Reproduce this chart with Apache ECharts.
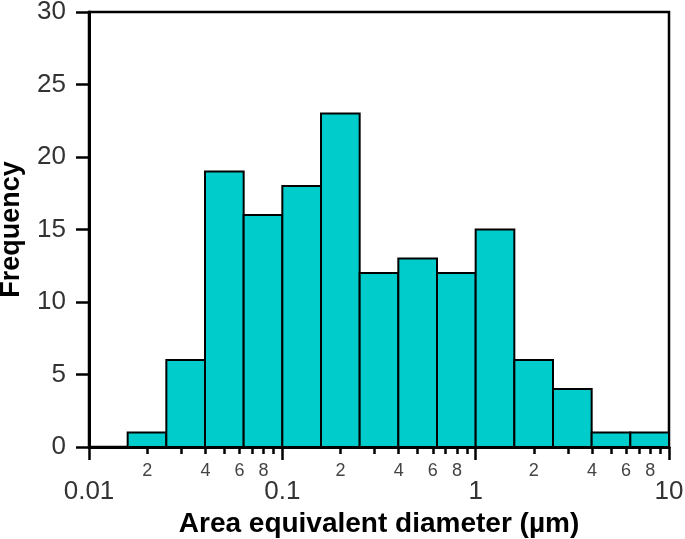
<!DOCTYPE html>
<html>
<head>
<meta charset="utf-8">
<script src="https://cdn.jsdelivr.net/npm/echarts@6/dist/echarts.min.js"></script>
<style>
  html, body { margin: 0; padding: 0; background: #fff; }
  #chart { width: 685px; height: 539px; }
</style>
</head>
<body>
<div id="chart"></div>
<script>
// bin edges in log10(diameter / µm), each bin is 0.2 decade wide
var binEdges = [-1.8, -1.6, -1.4, -1.2, -1.0, -0.8, -0.6, -0.4, -0.2, 0.0, 0.2, 0.4, 0.6, 0.8, 1.0];
// counts per bin
var counts = [1, 6, 19, 16, 18, 23, 12, 13, 12, 15, 6, 4, 1, 1];
// axis labels
var decadeLabels = ['0.01', '0.1', '1', '10'];
var minorTickDigits = [2, 3, 4, 5, 6, 7, 8, 9];
var minorLabelDigits = [2, 4, 6, 8];
var decades = [-2, -1, 0];

var font = "'Liberation Sans', Arial, sans-serif";

var histData = [];
for (var i = 0; i < counts.length; i++) {
    histData.push([binEdges[i], binEdges[i + 1], counts[i]]);
}

var minorTicks = [], minorLabels = [];
decades.forEach(function (d) {
    minorTickDigits.forEach(function (k) { minorTicks.push(d + Math.log10(k)); });
    minorLabelDigits.forEach(function (k) { minorLabels.push(d + Math.log10(k)); });
});

var chart = echarts.init(document.getElementById('chart'));

var option = {
    animation: false,
    textStyle: { fontFamily: font },
    grid: {
        left: 89, right: 16, top: 12, bottom: 92,
        show: true, borderColor: '#000', borderWidth: 2.5,
        outerBoundsMode: 'none'
    },
    xAxis: [{
        type: 'value',
        min: -2, max: 1, interval: 1,
        position: 'bottom',
        name: 'Area equivalent diameter (µm)',
        nameLocation: 'middle',
        nameGap: 63,
        nameMoveOverlap: false,
        nameTextStyle: { fontSize: 28, fontWeight: 'bold', color: '#000', fontFamily: font },
        axisLine: { onZero: false, lineStyle: { color: '#000', width: 3 } },
        axisTick: { length: 13, lineStyle: { color: '#000', width: 2.5 } },
        axisLabel: {
            fontSize: 26, color: '#333', margin: 32, fontFamily: font,
            formatter: function (v) { return decadeLabels[Math.round(v) + 2]; }
        },
        splitLine: { show: false }
    }, {
        type: 'value',
        min: -2, max: 1,
        position: 'bottom',
        axisLine: { show: false, onZero: false },
        axisTick: { customValues: minorTicks, length: 7, lineStyle: { color: '#000', width: 2.5 } },
        axisLabel: {
            customValues: minorLabels,
            fontSize: 18, color: '#444', margin: 15, fontFamily: font,
            formatter: function (v) {
                return String(Math.round(Math.pow(10, v - Math.floor(v + 1e-9))));
            }
        },
        splitLine: { show: false }
    }],
    yAxis: {
        type: 'value',
        min: 0, max: 30, interval: 5,
        name: 'Frequency',
        nameLocation: 'middle',
        nameGap: 64,
        nameMoveOverlap: false,
        nameTextStyle: { fontSize: 27, fontWeight: 'bold', color: '#000', fontFamily: font },
        axisLine: { show: true, onZero: false, lineStyle: { color: '#000', width: 3 } },
        axisTick: { show: true, length: 13, lineStyle: { color: '#000', width: 2.5 } },
        axisLabel: { fontSize: 26, color: '#333', margin: 23, fontFamily: font },
        splitLine: { show: false }
    },
    series: [{
        type: 'custom',
        xAxisIndex: 0,
        data: histData,
        renderItem: function (params, api) {
            var p0 = api.coord([api.value(0), 0]);
            var p1 = api.coord([api.value(1), api.value(2)]);
            return {
                type: 'rect',
                shape: { x: p0[0], y: p1[1], width: p1[0] - p0[0], height: p0[1] - p1[1] },
                style: { fill: '#00CCCC', stroke: '#000', lineWidth: 2 }
            };
        }
    }]
};

chart.setOption(option);
</script>
</body>
</html>
